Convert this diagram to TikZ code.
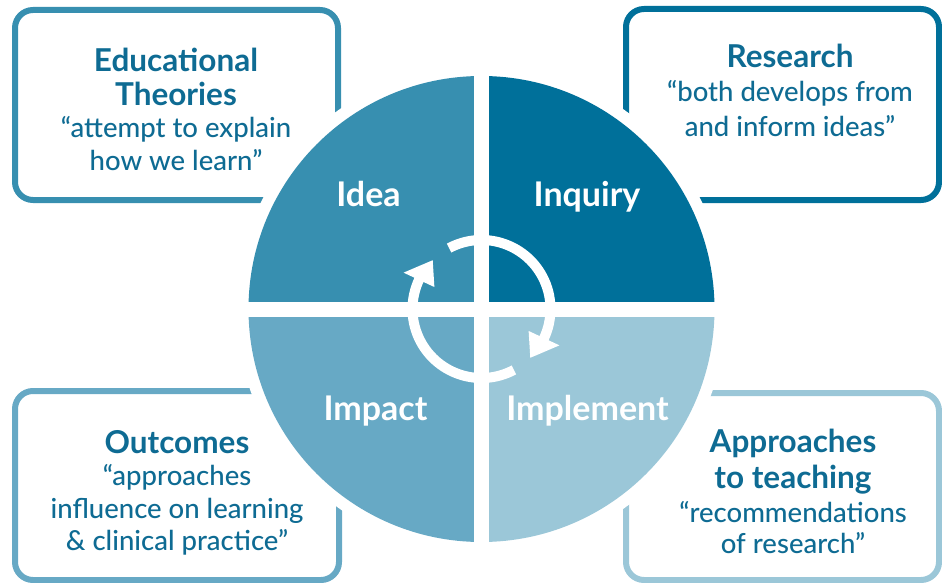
\documentclass[tikz,border=0pt]{standalone}
\usepackage{fontspec}
\setmainfont{Lato}
\newfontfamily\quofont{Lato Medium}
\usetikzlibrary{calc}
\definecolor{cidea}{HTML}{378FB0}
\definecolor{cinq}{HTML}{00709A}
\definecolor{cimpact}{HTML}{67A9C5}
\definecolor{cimpl}{HTML}{9BC7D8}
\definecolor{ctext}{HTML}{0E6B93}
\tikzset{
  box/.style={line width=6pt, rounded corners=18pt},
  ttl/.style={anchor=base, text=ctext, font=\fontsize{31.5}{33}\selectfont\bfseries, inner sep=0pt},
  quo/.style={anchor=base, text=ctext, font=\quofont\fontsize{27.5}{30}\selectfont, inner sep=0pt},
  qlab/.style={anchor=base, text=white, font=\fontsize{34}{36}\selectfont\bfseries, inner sep=0pt},
  ring/.style={white, line width=10pt},
}
\begin{document}
\begin{tikzpicture}[x=1pt,y=-1pt]
\useasboundingbox (0,0) rectangle (942,583);
% boxes
\draw[box, cidea] (15,10) rectangle (338,200);
\draw[box, cinq] (626,9) rectangle (939,200);
\draw[box, cimpact] (15,391) rectangle (339,580);
\draw[box, cimpl] (626,393) rectangle (939,580);
% circle
\coordinate (c) at (481.5,309);
\fill[white] (c) circle[radius=245];
\fill[cidea] (c) -- ++(180:233) arc[start angle=180, end angle=270, radius=233] -- cycle;
\fill[cinq] (c) -- ++(270:233) arc[start angle=270, end angle=360, radius=233] -- cycle;
\fill[cimpl] (c) -- ++(0:233) arc[start angle=0, end angle=90, radius=233] -- cycle;
\fill[cimpact] (c) -- ++(90:233) arc[start angle=90, end angle=180, radius=233] -- cycle;
\draw[white, line width=15pt] ($(c)+(0,-240)$) -- ($(c)+(0,240)$);
\draw[white, line width=15pt] ($(c)+(-240,0)$) -- ($(c)+(240,0)$);
% cycle arrows
\draw[ring] ($(c)+(-118:69)$) arc[start angle=-118, end angle=26, radius=69];
\fill[white] ($(c)+(45:69)$) -- ($(c)+(25:86)$) -- ($(c)+(25:52)$) -- cycle;
\draw[ring] ($(c)+(62:69)$) arc[start angle=62, end angle=206, radius=69];
\fill[white] ($(c)+(225:69)$) -- ($(c)+(205:86)$) -- ($(c)+(205:52)$) -- cycle;
% quadrant labels
\node[qlab] (idea) at (368.5,206) {Idea};
\node[qlab] (inq) at (587,206) {Inquiry};
\node[qlab] (imp) at (375.5,420) {Impact};
\node[qlab] (impl) at (587.5,420) {Implement};
% box texts
\node[ttl] (tl1) at (176,72) {Educational};
\node[ttl] (tl2) at (176,106) {Theories};
\node[quo] (tl3) at (176,138) {“attempt to explain};
\node[quo] (tl4) at (176,170) {how we learn”};
\node[ttl] (tr1) at (790,68) {Research};
\node[quo] (tr2) at (790,102) {“both develops from};
\node[quo] (tr3) at (790,137) {and inform ideas”};
\node[ttl] (bl1) at (177,453) {Outcomes};
\node[quo] (bl2) at (177,485) {“approaches};
\node[quo] (bl3) at (177,518) {influence on learning};
\node[quo] (bl4) at (177,550) {\& clinical practice”};
\node[ttl] (br1) at (793,452) {Approaches};
\node[ttl] (br2) at (793,488) {to teaching};
\node[quo] (br3) at (793,522) {“recommendations};
\node[quo] (br4) at (793,553) {of research”};
\end{tikzpicture}
\end{document}
